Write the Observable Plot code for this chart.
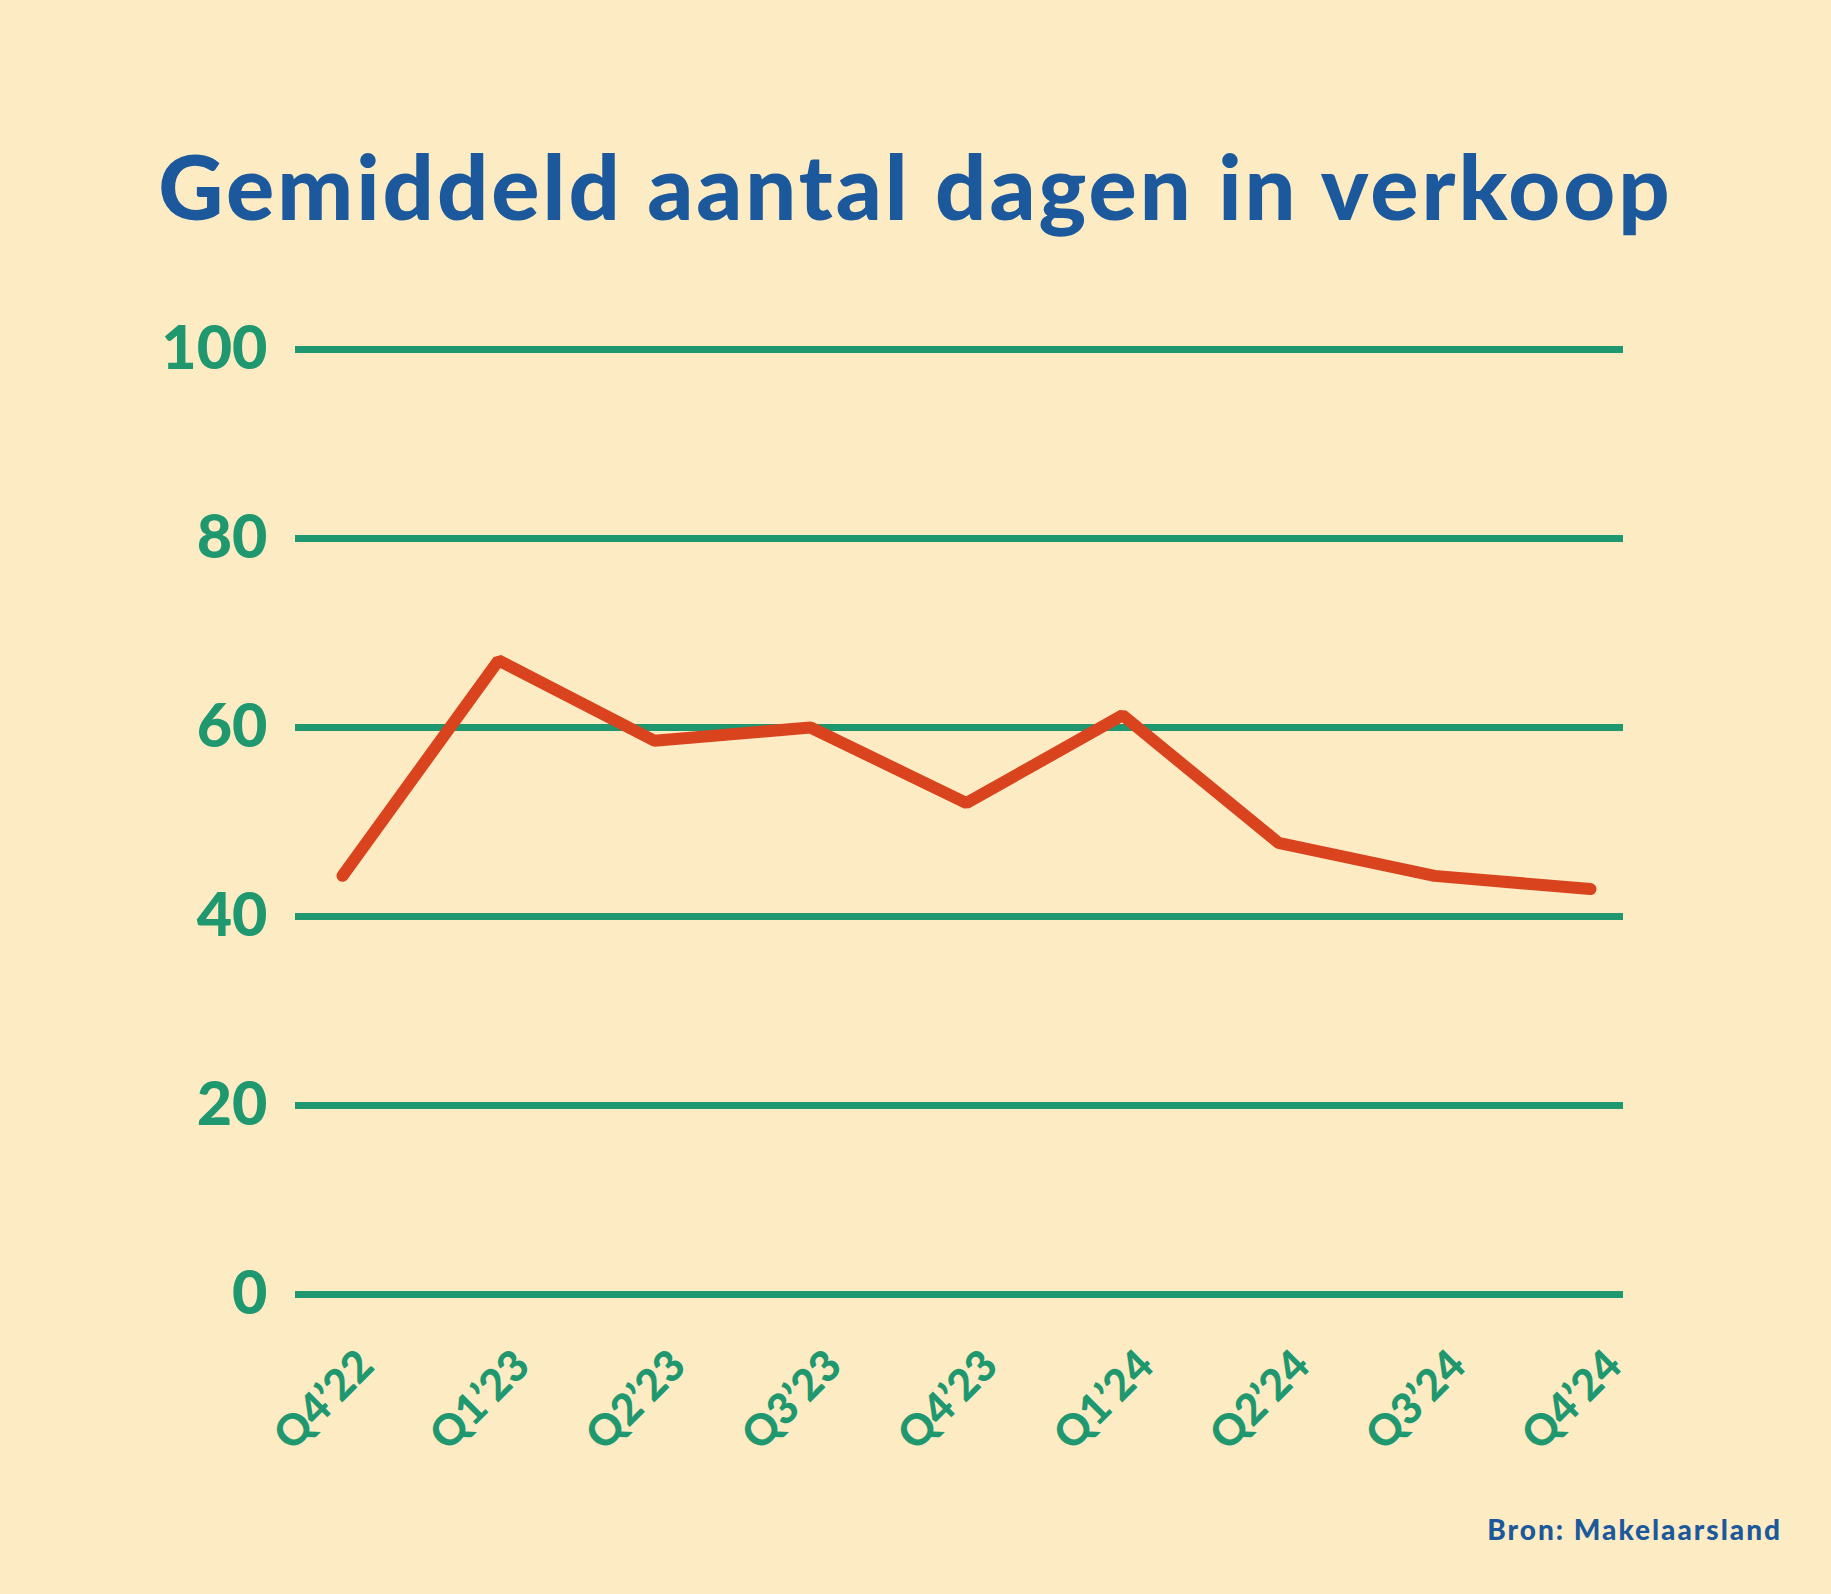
<!DOCTYPE html>
<html>
<head>
<meta charset="utf-8">
<script src="https://cdn.jsdelivr.net/npm/d3@7"></script>
<script src="https://cdn.jsdelivr.net/npm/@observablehq/plot@0.6"></script>
<style>
  html, body { margin: 0; padding: 0; background: #fdebc3; }
  #wrap { position: relative; width: 1831px; height: 1594px; background: #fdebc3; overflow: hidden; }
  #title { position: absolute; left: 0; width: 1831px; top: 140px; text-align: center;
    font-family: Lato, "Open Sans", sans-serif; font-weight: 900; font-size: 90px; line-height: 90px;
    color: #1b599c; letter-spacing: 3px; white-space: nowrap; }
  #chart { position: absolute; left: 0; top: 250px; }
  #source { position: absolute; right: 49px; top: 1514px; font-family: Lato, "Open Sans", sans-serif;
    font-weight: 900; font-size: 28px; line-height: 30px; color: #1b599c; letter-spacing: 2px; white-space: nowrap; }
</style>
</head>
<body>
<div id="wrap">
  <div id="title">Gemiddeld aantal dagen in verkoop</div>
  <div id="chart"></div>
  <div id="source">Bron: Makelaarsland</div>
</div>
<script>
const quarters = ["Q4’22", "Q1’23", "Q2’23", "Q3’23", "Q4’23", "Q1’24", "Q2’24", "Q3’24", "Q4’24"];
const days = [44.3, 67.1, 58.6, 60.0, 52.0, 61.3, 47.8, 44.3, 42.9];
const yTicks = [0, 20, 40, 60, 80, 100];

const green = "#1f9870";
const red = "#d9431d";

const data = quarters.map((q, i) => ({quarter: q, value: days[i]}));

const chart = Plot.plot({
  width: 1831,
  height: 1250,
  marginTop: 99,
  marginBottom: 206,
  marginLeft: 295,
  marginRight: 208,
  style: {background: "transparent", fontFamily: "Lato, 'Open Sans', sans-serif", overflow: "visible"},
  x: {type: "point", domain: quarters, range: [338, 1593], padding: 0, axis: null},
  y: {domain: [0, 100], axis: null},
  marks: [
    Plot.ruleY(yTicks, {stroke: green, strokeWidth: 7}),
    Plot.axisY({ticks: yTicks, tickSize: 0, tickPadding: 28, fontSize: 61, fontWeight: 900, fill: green, label: null, textAnchor: "end"}),
    Plot.text(quarters, {x: d => d, frameAnchor: "bottom", rotate: -45, textAnchor: "end", lineAnchor: "middle",
      dx: 24, dy: 64, fontSize: 43, fontWeight: 900, fill: green}),
    Plot.line(data, {x: "quarter", y: "value", stroke: red, strokeWidth: 12, strokeLinecap: "round", strokeLinejoin: "miter"})
  ]
});
document.getElementById("chart").appendChild(chart);
</script>
</body>
</html>
